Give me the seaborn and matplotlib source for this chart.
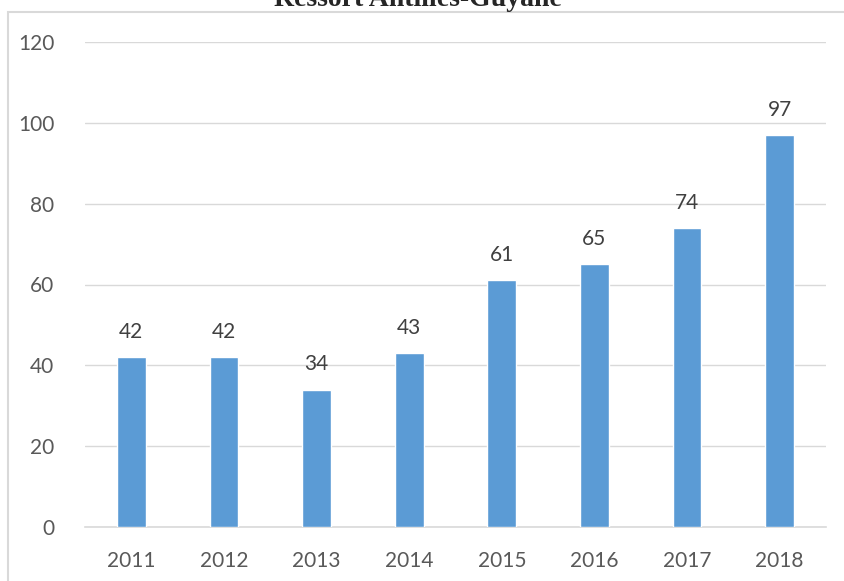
import pandas as pd
import matplotlib.pyplot as plt
import seaborn as sns
from matplotlib.patches import Rectangle

# Data
years = ['2011', '2012', '2013', '2014', '2015', '2016', '2017', '2018']
values = [42, 42, 34, 43, 61, 65, 74, 97]

df = pd.DataFrame({'Année': years, 'Valeur': values})

sns.set_style('white')
plt.rcParams['font.family'] = ['Lato', 'DejaVu Sans']

fig = plt.figure(figsize=(8.44, 5.81), dpi=100)
ax = fig.add_axes([85 / 844, 1 - 527 / 581, 741 / 844, 485 / 581])

sns.barplot(data=df, x='Année', y='Valeur', color='#5B9BD5', width=0.31,
            saturation=1, ax=ax, zorder=3)

ax.set_ylim(0, 120)
ax.set_yticks(range(0, 121, 20))
ax.yaxis.grid(True, color='#d9d9d9', linewidth=1, zorder=0)
ax.set_xlabel('')
ax.set_ylabel('')
for s in ['top', 'right', 'left']:
    ax.spines[s].set_visible(False)
ax.spines['bottom'].set_color('#d9d9d9')
ax.spines['bottom'].set_linewidth(1.2)
ax.tick_params(axis='both', length=0, labelsize=15, labelcolor='#595959')
ax.tick_params(axis='y', pad=22)
ax.tick_params(axis='x', pad=17)

for c in ax.containers:
    ax.bar_label(c, labels=[str(v) for v in values], padding=11,
                 fontsize=15, color='#404040')

# chart border
fig.patches.append(Rectangle((8 / 844, -0.05), 1.0, 1 - 12 / 581 + 0.05,
                             transform=fig.transFigure, fill=False,
                             edgecolor='#d9d9d9', linewidth=1.5))

# title, cut off at the top as in the source
fig.text(418 / 844, 1 - 6 / 581, 'Ressort Antilles-Guyane', ha='center',
         va='baseline', fontsize=20, fontweight='bold',
         family=['Liberation Serif', 'DejaVu Serif'])

fig.savefig('out.png', dpi=100)
